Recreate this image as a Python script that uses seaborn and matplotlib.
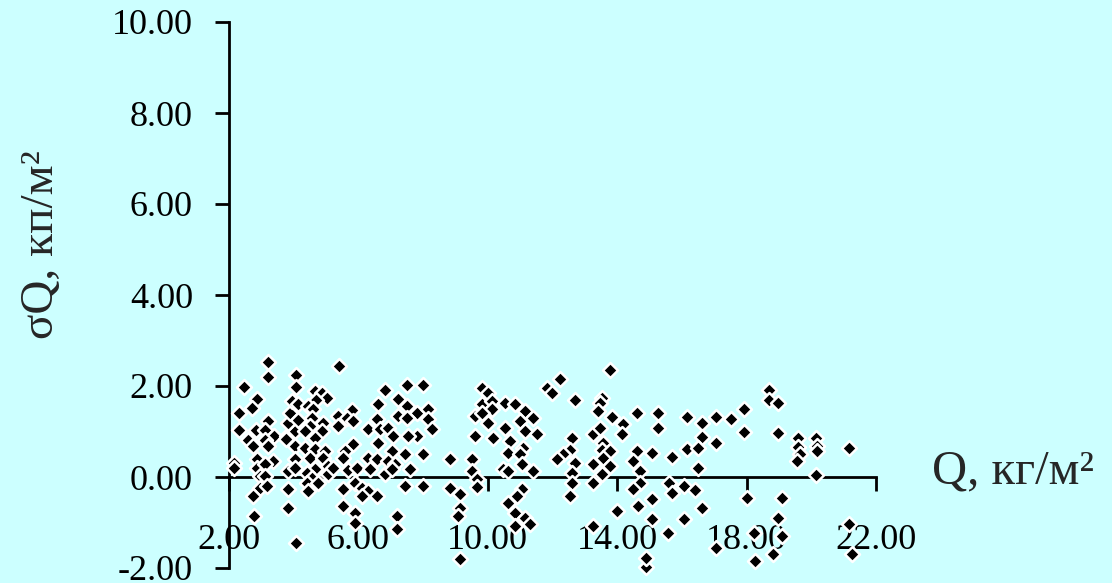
import matplotlib
matplotlib.use("Agg")
import matplotlib.pyplot as plt
from matplotlib.ticker import FormatStrFormatter
import seaborn as sns
import pandas as pd

# ---- data ----
q_values = [
    3.21, 3.21, 4.07, 4.07, 2.46, 2.87, 2.71, 2.31, 2.31, 2.83, 3.21, 3.11, 3.39, 3.11, 2.59,
    2.74, 3.21, 2.15, 2.15, 2.87, 2.87, 3.36, 3.11, 2.96, 3.11, 2.96, 2.74, 3.17, 2.77, 3.79,
    3.76, 4.04, 4.04, 3.82, 3.89, 4.13, 3.95, 4.13, 4.04, 3.82, 4.04, 3.82, 3.82, 4.07, 4.66,
    4.87, 5.03, 4.69, 4.44, 4.60, 4.57, 4.91, 4.50, 4.87, 4.35, 4.66, 4.35, 4.66, 4.97, 4.50,
    4.91, 4.66, 4.41, 4.57, 4.41, 4.75, 4.44, 5.06, 5.06,
    5.40, 6.82, 7.50, 8.00, 7.22, 6.61, 7.50, 7.81, 8.15, 5.80, 5.37, 5.65, 5.83, 6.57, 7.22,
    7.50, 8.15, 8.27, 5.37, 6.30, 6.67, 6.91, 7.07, 7.81, 7.53, 6.61, 5.83, 5.59, 7.04, 7.44,
    8.00, 6.30, 6.57, 6.91, 7.13, 5.52, 5.21, 5.68, 5.96, 6.36, 6.82, 7.04, 7.60, 5.89, 5.52,
    6.11, 6.30, 6.57, 6.11, 7.44, 8.00, 5.52, 5.89, 5.89, 7.19, 7.19,
    9.82, 10.01, 9.82, 10.13, 10.53, 10.84, 10.13, 11.15, 9.60, 9.82, 11.40, 10.01, 10.99, 10.53,
    9.60, 10.16, 11.15, 11.52, 10.69, 11.09, 10.62, 10.99, 11.06, 8.83, 9.51, 9.51, 9.67, 9.67,
    10.47, 10.62, 11.40, 8.83, 9.14, 9.14, 9.08, 11.06, 10.90, 10.62, 10.84, 11.15, 11.30, 10.84,
    9.14,
    13.78, 12.23, 11.83, 11.99, 12.70, 13.53, 13.47, 13.41, 13.84, 14.61, 14.18, 14.15, 13.25,
    13.47, 12.60, 13.56, 12.54, 13.53, 13.78, 12.32, 12.14, 13.56, 14.61, 14.49, 12.70, 13.25,
    13.78, 12.60, 13.53, 14.70, 13.25, 12.60, 14.70, 14.49, 12.54, 13.99, 14.64, 13.25, 14.88,
    14.88,
    15.26, 15.26, 16.16, 16.62, 17.05, 17.52, 17.92, 17.92, 16.62, 16.16, 16.50, 17.05, 15.08,
    15.69, 16.50, 15.60, 15.69, 16.06, 16.40, 15.08, 16.62, 15.08, 16.06, 15.57, 17.05, 18.01,
    18.69, 18.69, 18.97, 18.97, 19.59, 20.15, 19.59, 20.18, 20.18, 19.65, 19.56, 21.16, 20.15,
    19.09, 18.97, 18.23, 19.09, 18.81, 18.26, 21.16, 21.26,
]
sigma_values = [
    2.53, 2.20, 2.24, 1.98, 1.98, 1.71, 1.52, 1.41, 1.03, 1.03, 1.23, 1.03, 0.90, 0.81, 0.81,
    0.68, 0.68, 0.31, 0.20, 0.40, 0.20, 0.35, 0.29, 0.02, 0.02, -0.24, -0.42, -0.20, -0.86, 0.90,
    0.84, 1.01, 0.68, 1.19, 1.41, 1.25, 1.67, 1.60, 0.40, 0.13, 0.20, -0.26, -0.68, -1.45, 1.89,
    1.85, 1.74, 1.69, 1.56, 1.49, 1.30, 1.19, 1.12, 1.01, 1.01, 0.86, 0.64, 0.62, 0.57, 0.42,
    0.42, 0.18, 0.09, -0.02, -0.13, -0.13, -0.31, 0.24, 0.07,
    2.44, 1.91, 2.02, 2.02, 1.71, 1.60, 1.56, 1.41, 1.49, 1.47, 1.34, 1.30, 1.23, 1.27, 1.34,
    1.30, 1.27, 1.05, 1.12, 1.05, 1.05, 1.08, 0.90, 0.90, 0.90, 0.75, 0.73, 0.57, 0.57, 0.51,
    0.51, 0.42, 0.40, 0.35, 0.29, 0.42, 0.20, 0.15, 0.20, 0.18, 0.07, 0.18, 0.18, -0.13, -0.26,
    -0.24, -0.31, -0.42, -0.42, -0.20, -0.20, -0.64, -0.79, -1.01, -0.86, -1.14,
    1.96, 1.85, 1.60, 1.67, 1.63, 1.60, 1.49, 1.45, 1.34, 1.41, 1.30, 1.19, 1.23, 1.08,
    0.90, 0.86, 1.01, 0.95, 0.79, 0.64, 0.53, 0.51, 0.29, 0.40, 0.40, 0.13, -0.04, -0.22,
    0.18, 0.13, 0.13, -0.24, -0.37, -0.68, -0.86, -0.26, -0.42, -0.57, -0.79, -0.90, -1.03, -1.08,
    -1.80,
    2.35, 2.15, 1.96, 1.85, 1.69, 1.74, 1.63, 1.45, 1.32, 1.41, 1.16, 0.95, 0.95,
    1.08, 0.86, 0.75, 0.59, 0.59, 0.57, 0.51, 0.40, 0.42, 0.57, 0.35, 0.31, 0.29,
    0.24, 0.09, 0.07, 0.13, -0.13, -0.13, -0.13, -0.26, -0.42, -0.75, -0.64, -1.08, -1.98,
    -1.78,
    1.41, 1.08, 1.32, 1.19, 1.32, 1.27, 1.49, 0.99, 0.88, 0.62, 0.64, 0.75, 0.53,
    0.44, 0.20, -0.13, -0.35, -0.20, -0.29, -0.48, -0.68, -0.92, -0.92, -1.23, -1.56, -0.46,
    1.91, 1.69, 1.63, 0.97, 0.86, 0.86, 0.66, 0.68, 0.57, 0.51, 0.35, 0.64, 0.04,
    -0.46, -0.90, -1.23, -1.30, -1.69, -1.85, -1.03, -1.69,
]
x_ticks = [2, 6, 10, 14, 18, 22]
y_ticks = [-2, 0, 2, 4, 6, 8, 10]
x_label = "Q, кг/м²"
y_label = "σQ, кп/м²"

df = pd.DataFrame({"Q": q_values, "sigmaQ": sigma_values})

# ---- styling ----
sns.set_style("white")
plt.rcParams["font.family"] = ["Liberation Serif", "DejaVu Serif"]
bg = "#CCFFFF"

fig = plt.figure(figsize=(11.12, 5.83), dpi=100, facecolor=bg)
ax = fig.add_axes([229 / 1112, 15 / 583, 647 / 1112, 546 / 583])
ax.set_facecolor(bg)

sns.scatterplot(data=df, x="Q", y="sigmaQ", marker="D", color="black",
                edgecolor="white", linewidth=1.8, s=58, ax=ax,
                clip_on=False, zorder=3, legend=False)

ax.set_xlim(2, 22)
ax.set_ylim(-2, 10)
ax.set_xticks(x_ticks)
ax.set_yticks(y_ticks)
ax.xaxis.set_major_formatter(FormatStrFormatter("%.2f"))
ax.yaxis.set_major_formatter(FormatStrFormatter("%.2f"))

for side in ("top", "right"):
    ax.spines[side].set_visible(False)
ax.spines["bottom"].set_position(("data", 0))
for side in ("left", "bottom"):
    ax.spines[side].set_linewidth(2)
    ax.spines[side].set_color("black")

ax.tick_params(axis="x", direction="out", length=10, width=2, pad=24,
               labelsize=26, colors="black")
ax.tick_params(axis="y", direction="out", length=10, width=2, pad=16,
               labelsize=26, colors="black")
ax.tick_params(left=True, bottom=True)

ax.set_ylabel(y_label, fontsize=34, va="center")
ax.yaxis.set_label_coords(-0.29, 0.5916)
ax.set_xlabel(x_label, fontsize=35, ha="left", va="center")
ax.xaxis.set_label_coords(1.0866, 0.176)

fig.savefig("out.png", dpi=100, facecolor=bg)
